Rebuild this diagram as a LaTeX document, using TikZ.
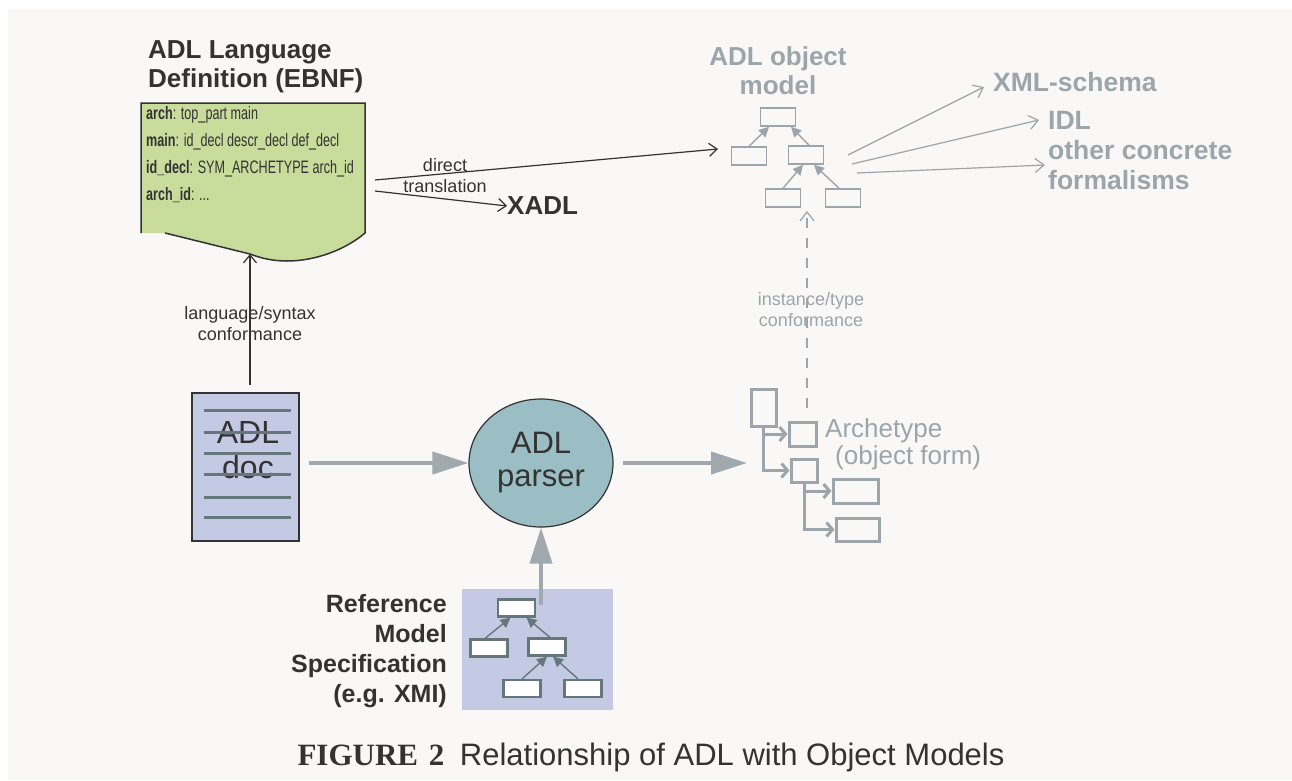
\documentclass[tikz,border=0pt]{standalone}
\usepackage{fontspec}
\setmainfont{Liberation Sans}
\newfontfamily\capserif{Liberation Serif}
\newfontfamily\ebnffont{Liberation Sans}[FakeStretch=0.7]
\usetikzlibrary{arrows.meta,positioning,shapes.geometric}

\definecolor{paper}{HTML}{F9F8F7}
\definecolor{ebnfgreen}{HTML}{C8DC9C}
\definecolor{doclilac}{HTML}{C5CAE4}
\definecolor{parserteal}{HTML}{9BBDC4}
\definecolor{omgray}{HTML}{9BA5AA}
\definecolor{bigarrow}{HTML}{A0A9AD}
\definecolor{slate}{HTML}{66777B}
\definecolor{inkdark}{HTML}{333333}

\begin{document}
\begin{tikzpicture}[x=1pt,y=-1pt,
  headline/.style={font=\fontsize{26}{29}\selectfont\bfseries,text=inkdark,inner sep=0pt},
  greyhead/.style={headline,text=omgray},
  smalltxt/.style={font=\fontsize{18}{21}\selectfont,inner sep=0pt,align=center},
  omcls/.style={draw=omgray,line width=1.6pt,minimum width=35pt,minimum height=18pt,inner sep=0pt},
  rmcls/.style={draw=slate,fill=white,line width=2.2pt,minimum width=37pt,minimum height=17pt,inner sep=0pt},
  atcls/.style={draw=omgray,line width=3pt,inner sep=0pt},
  inh/.style={line width=1.4pt,-{Triangle[length=10pt,width=10pt]}},
  thinarr/.style={draw=inkdark,line width=1.2pt,-{Straight Barb[length=8pt,width=13pt]}},
  greyarr/.style={draw=omgray,line width=1.2pt,-{Straight Barb[length=9pt,width=14pt]}},
  bigarr/.style={draw=bigarrow,line width=4pt,-{Triangle[length=36pt,width=22pt]}},
  treearr/.style={draw=omgray,line width=3pt,-{Straight Barb[length=6pt,width=14pt]}},
  docline/.style={draw=slate,line width=3pt}]
\useasboundingbox (0,0) rectangle (1292,780);
\fill[white] (0,0) rectangle (1292,780);
\fill[paper] (8,9) rectangle (1292,780);

% language definition
\node[headline,align=left,anchor=north west] (ebnftitle) at (148,40) {ADL Language\\Definition (EBNF)};
\fill[ebnfgreen] (141,103) -- (365,103) -- (365,233)
  .. controls (345,250) and (315,261) .. (287,261)
  .. controls (270,261) and (258,257) .. (250,254) -- (165,233) -- (141,233) -- cycle;
\draw[inkdark,line width=1.5pt] (141,233) -- (141,103) -- (365,103) -- (365,233)
  .. controls (345,250) and (315,261) .. (287,261)
  .. controls (270,261) and (258,257) .. (250,254) -- (165,233);
\coordinate (ebnfbot) at (250,254);
\node[anchor=north west,inner sep=0pt,align=left,text=inkdark,
  font=\ebnffont\fontsize{18}{27}\selectfont] (ebnfrules) at (146,106)
  {\textbf{arch}: top\_part main\\
   \textbf{main}: id\_decl descr\_decl def\_decl\\
   \textbf{id\_decl}: SYM\_ARCHETYPE arch\_id\\
   \textbf{arch\_id}: ...};

% translation
\coordinate (dtfrom) at (375,180);
\coordinate (dtto) at (718,149);
\coordinate (xfrom) at (375,191);
\node[headline,anchor=west] (xadl) at (507,206) {XADL};
\draw[thinarr] (dtfrom) -- (dtto);
\draw[thinarr] (xfrom) -- (xadl.west);
\node[smalltxt,text=inkdark] (dtlabel) at (445,176) {direct\\translation};

% object model
\node[greyhead,align=center] (omtitle) at (778,71) {ADL object\\model};
\node[omcls] (om1) at (778,117) {};
\node[omcls] (om2) at (749,156) {};
\node[omcls] (om3) at (806,155) {};
\node[omcls] (om4) at (783,198) {};
\node[omcls] (om5) at (843,198) {};
\draw[inh,omgray] (om2.north) -- ([xshift=-9pt]om1.south);
\draw[inh,omgray] ([xshift=3pt]om3.north) -- ([xshift=13pt]om1.south);
\draw[inh,omgray] (om4.north) -- ([xshift=-3pt]om3.south);
\draw[inh,omgray] ([xshift=-4pt]om5.north) -- ([xshift=8pt]om3.south);

% formalisms
\node[greyhead,anchor=west,font=\fontsize{26.5}{30}\selectfont\bfseries] (xmls) at (993,82) {XML-schema};
\node[greyhead,anchor=west,font=\fontsize{26.5}{30}\selectfont\bfseries] (idlname) at (1048,120) {IDL};
\node[greyhead,anchor=west,align=left,font=\fontsize{26.5}{30}\selectfont\bfseries] (otherform) at (1048,165) {other concrete\\formalisms};
\coordinate (fmA) at (848,155);
\coordinate (fmB) at (852,164);
\coordinate (fmC) at (857,173);
\draw[greyarr] (fmA) -- ([xshift=-9pt,yshift=-5pt]xmls.west);
\draw[greyarr] (fmB) -- ([xshift=-9pt]idlname.west);
\draw[greyarr] (fmC) -- ([xshift=-3pt]otherform.west);

% instance conformance
\coordinate (instfrom) at (807,408);
\coordinate (instto) at (807,211);
\draw[greyarr,dash pattern=on 10pt off 10pt] (instfrom) -- (instto);
\node[smalltxt,text=omgray] (instlabel) at (811,310) {instance/type\\conformance};

% ADL doc
\node[draw=inkdark,fill=doclilac,line width=2pt,minimum width=107pt,minimum height=148pt,inner sep=0pt] (adldoc) at (245.5,467) {};
\node[font=\fontsize{32}{35}\selectfont,text=inkdark,align=center,inner sep=0pt] (adltxt) at (248,450) {ADL\\doc};
\foreach \ly in {410,432,453,474,497,517}
  \draw[docline] (204,\ly) -- (291,\ly);
\draw[thinarr,shorten <=7pt] ([xshift=4.5pt]adldoc.north) -- (ebnfbot);
\node[smalltxt,text=inkdark] (synlabel) at (250,324) {language/syntax\\conformance};

% parser
\node[ellipse,draw=inkdark,fill=parserteal,line width=1.2pt,minimum width=144pt,minimum height=128pt,
  font=\fontsize{31}{33}\selectfont,text=inkdark,align=center] (parser) at (541,463) {ADL\\parser};
\draw[bigarr,shorten <=9pt] (adldoc.east |- parser.west) -- (parser.west);

% reference model
\node[fill=doclilac,minimum width=151pt,minimum height=121pt,inner sep=0pt] (refbox) at (537.5,649.5) {};
\node[rmcls] (rm1) at (516.5,608) {};
\node[rmcls] (rm2) at (489,648) {};
\node[rmcls] (rm3) at (547,647) {};
\node[rmcls] (rm4) at (522,688.5) {};
\node[rmcls] (rm5) at (583,688.5) {};
\draw[inh,slate] ([xshift=-4pt]rm2.north) -- ([xshift=-6pt]rm1.south);
\draw[inh,slate] ([xshift=3pt]rm3.north) -- ([xshift=10pt]rm1.south);
\draw[inh,slate] (rm4.north) -- ([xshift=0pt]rm3.south);
\draw[inh,slate] ([xshift=-5pt]rm5.north) -- ([xshift=6pt]rm3.south);
\coordinate (refout) at (541,605);
\draw[bigarr] (refout) -- (parser.south);
\node[headline,align=right,anchor=east,font=\fontsize{25}{30}\selectfont\bfseries] (reflabel) at (447,651)
  {Reference\\Model\\Specification\\(e.g. XMI)};

% archetype
\node[atcls,minimum width=25pt,minimum height=37pt] (at1) at (763.5,407.5) {};
\node[atcls,minimum width=27pt,minimum height=24pt] (at2) at (802.5,434) {};
\node[atcls,minimum width=26pt,minimum height=23pt] (at3) at (804,470.5) {};
\node[atcls,minimum width=45pt,minimum height=24pt] (at4) at (855.5,491) {};
\node[atcls,minimum width=43pt,minimum height=23pt] (at5) at (857.5,529.5) {};
\draw[treearr] (at1.south) |- (at3.west);
\draw[treearr] (at1.south |- at2.west) -- (at2.west);
\draw[treearr] (at3.south) |- (at5.west);
\draw[treearr] (at3.south |- at4.west) -- (at4.west);
\coordinate (archin) at (747,463);
\draw[bigarr,shorten <=9pt] (parser.east) -- (archin);
\node[font=\fontsize{26}{27}\selectfont,text=omgray,align=left,anchor=west,inner sep=0pt] (archlabel) at (825,444)
  {Archetype\\\hspace{10pt}(object form)};

% caption
\node[font=\fontsize{31}{34}\selectfont,text=inkdark,anchor=base] (caption) at (651,765)
  {{\capserif\bfseries FIGURE\hspace{0.35em}2}\hspace{0.5em}Relationship of ADL with Object Models};
\end{tikzpicture}
\end{document}
